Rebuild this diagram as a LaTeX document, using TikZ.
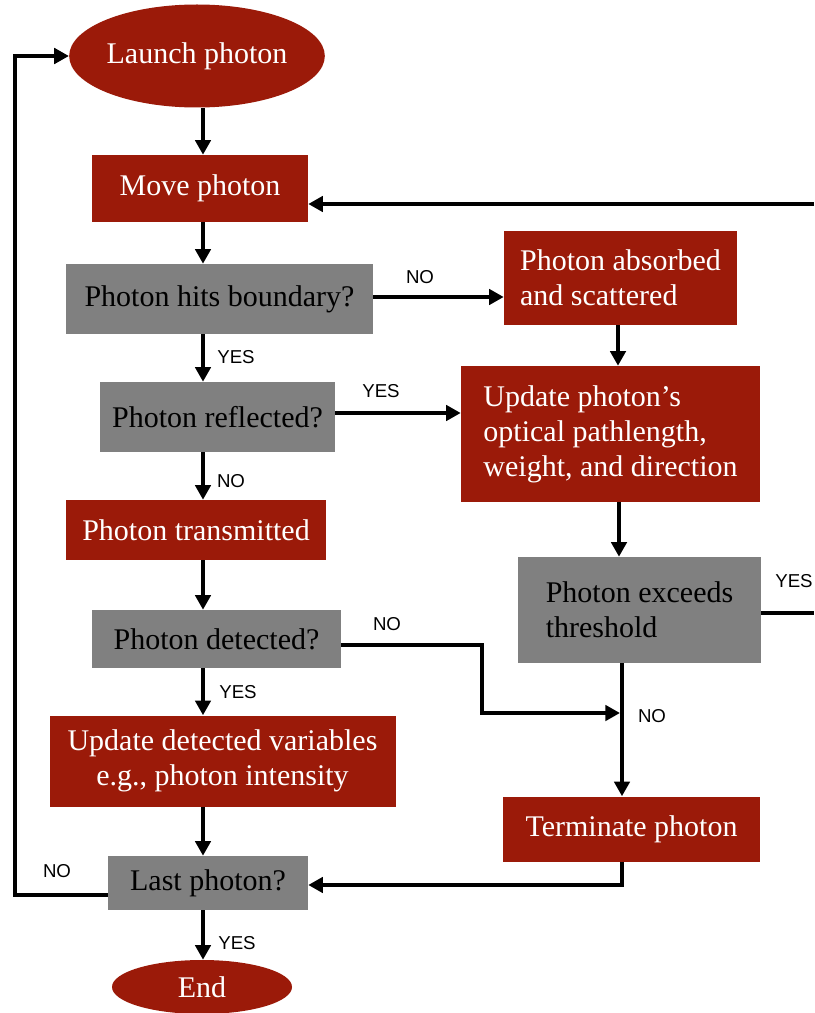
\documentclass[tikz,border=0pt]{standalone}
\usepackage{fontspec}
\setmainfont{Liberation Serif}
\newfontfamily\lblfont{Liberation Sans}
\usetikzlibrary{shapes.geometric,arrows.meta,calc}
\definecolor{boxred}{RGB}{155,26,9}
\definecolor{boxgray}{RGB}{128,128,128}
\begin{document}
\begin{tikzpicture}[x=0.75pt,y=-0.75pt,
  base/.style={font=\fontsize{22.5}{26.25}\selectfont, inner sep=0pt, align=center},
  redbox/.style={base, rectangle, fill=boxred, text=white},
  graybox/.style={base, rectangle, fill=boxgray, text=black},
  term/.style={base, ellipse, fill=boxred, text=white},
  sz/.style 2 args={minimum width=#1*0.75pt, minimum height=#2*0.75pt},
  conn/.style={line width=2.8pt, -{Triangle[length=11pt,width=11.5pt]}},
  plain/.style={line width=2.8pt},
  lbl/.style={font=\lblfont\fontsize{14}{16}\selectfont, inner sep=0pt}
]
\useasboundingbox (0,0) rectangle (814,1013);
% nodes
\node[term, sz={224}{103}] (launch) at (197,56) {Launch photon};
\node[redbox, sz={216}{67}] (move) at (200,188.5) {Move photon};
\node[graybox, sz={307}{70}] (hits) at (219.5,299) {Photon hits boundary?};
\node[redbox, sz={233}{94}, align=left] (absorb) at (620.5,278) {Photon absorbed\\and scattered};
\node[graybox, sz={235}{70}] (refl) at (217.5,417) {Photon reflected?};
\node[redbox, sz={299}{136}, align=left] (upd) at (610.5,434) {Update photon’s\\optical pathlength,\\weight, and direction};
\node[redbox, sz={260}{60}] (trans) at (196,530) {Photon transmitted};
\node[graybox, sz={243}{106}, align=left] (thr) at (639.5,610) {Photon exceeds\\threshold};
\node[graybox, sz={249}{58}] (det) at (216.5,639) {Photon detected?};
\node[redbox, sz={346}{91}] (updvar) at (222.5,761) {Update detected variables\\e.g., photon intensity};
\node[redbox, sz={257}{65}] (termin) at (631.5,829) {Terminate photon};
\node[graybox, sz={200}{54}] (last) at (208,883) {Last photon?};
\node[term, sz={180}{54}] (end) at (202,987) {End};
% free ends and bends
\coordinate (edgeM) at (814,204);
\coordinate (edgeY) at (814,613);
\coordinate (merge) at (620,713);
\coordinate (bendD) at (482,713);
\coordinate (loopB) at (15,895);
% connectors
\draw[conn] (203,0 |- launch.south) -- (203,0 |- move.north);
\draw[conn] (203,0 |- move.south) -- (203,0 |- hits.north);
\draw[conn] (hits.east |- 0,297) -- (absorb.west |- 0,297);
\node[lbl] (lno1) at (420,277) {NO};
\draw[conn] (618,0 |- absorb.south) -- (618,0 |- upd.north);
\draw[conn] (203,0 |- hits.south) -- (203,0 |- refl.north);
\node[lbl] (lyes1) at (236,357) {YES};
\draw[conn] (refl.east |- 0,413) -- (upd.west |- 0,413);
\node[lbl] (lyes2) at (381,391) {YES};
\draw[conn] (203,0 |- refl.south) -- (203,0 |- trans.north);
\node[lbl] (lno2) at (231,481) {NO};
\draw[conn] (203,0 |- trans.south) -- (203,0 |- det.north);
\draw[conn] (619,0 |- upd.south) -- (619,0 |- thr.north);
\draw[conn] (det.east |- 0,645) -| (bendD) -- (merge);
\node[lbl] (lno3) at (387,624) {NO};
\draw[conn] (622,0 |- thr.south) -- (622,0 |- termin.north);
\node[lbl] (lno4) at (652,716) {NO};
\draw[plain] (thr.east |- edgeY) -- (edgeY);
\node[lbl] (lyes3) at (794,581) {YES};
\draw[conn] (edgeM) -- (move.east |- edgeM);
\draw[conn] (203,0 |- det.south) -- (203,0 |- updvar.north);
\node[lbl] (lyes4) at (238,692) {YES};
\draw[conn] (203,0 |- updvar.south) -- (203,0 |- last.north);
\draw[conn] (622,0 |- termin.south) |- (last.east |- 0,885);
\draw[conn] (last.west |- loopB) -- (loopB) |- (launch.west);
\node[lbl] (lno5) at (57,871) {NO};
\draw[conn] (203,0 |- last.south) -- (203,0 |- end.north);
\node[lbl] (lyes5) at (237,943) {YES};
\end{tikzpicture}
\end{document}
